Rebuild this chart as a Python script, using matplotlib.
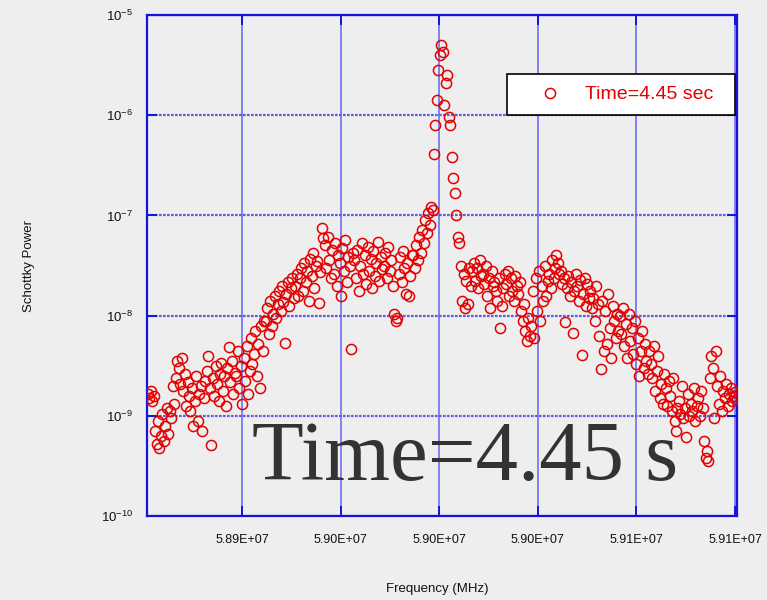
import numpy as np
import matplotlib
matplotlib.use("Agg")
import matplotlib.pyplot as plt
from matplotlib.ticker import FixedLocator, FuncFormatter, NullLocator

plt.rcParams['font.family'] = ['Liberation Sans', 'DejaVu Sans']
plt.rcParams['mathtext.default'] = 'regular'

# Schottky spectrum, one value per frequency bin (log10 of power)
f_start = 58911300.0
f_step = 449.0
log_power = [
    -8.78, -8.82, -8.75, -8.85, -8.80, -9.15, -9.28, -9.05, -9.32, -9.20, -8.98, -9.25, -9.10, -8.92, -9.18, -8.95, -9.02, -8.70, -8.88, -8.62,
    -8.45, -8.52, -8.68, -8.42, -8.75, -8.58, -8.90, -8.66, -8.80, -8.95, -8.72, -9.10, -8.85, -8.60, -9.05, -8.78, -8.70, -9.15, -8.82, -8.65,
    -8.55, -8.40, -8.72, -9.29, -8.62, -8.80, -8.50, -8.68, -8.85, -8.58, -8.47, -8.75, -8.60, -8.90, -8.52, -8.31, -8.66, -8.45, -8.78, -8.57,
    -8.60, -8.35, -8.72, -8.50, -8.88, -8.42, -8.65, -8.30, -8.78, -8.55, -8.22, -8.48, -8.38, -8.15, -8.60, -8.28, -8.72, -8.10, -8.35, -8.05,
    -8.05, -7.92, -8.18, -7.85, -8.10, -7.98, -7.80, -8.02, -7.88, -7.75, -7.95, -7.70, -7.86, -8.27, -7.78, -7.66, -7.90, -7.72, -7.62, -7.82,
    -7.70, -7.58, -7.80, -7.62, -7.52, -7.75, -7.48, -7.66, -7.55, -7.85, -7.44, -7.60, -7.38, -7.72, -7.50, -7.46, -7.87, -7.56, -7.13, -7.23,
    -7.30, -7.52, -7.22, -7.45, -7.62, -7.35, -7.58, -7.28, -7.70, -7.40, -7.48, -7.80, -7.33, -7.55, -7.25, -7.66, -7.42, -7.50, -8.33, -7.38,
    -7.45, -7.62, -7.35, -7.75, -7.50, -7.28, -7.58, -7.40, -7.68, -7.32, -7.55, -7.44, -7.72, -7.36, -7.60, -7.48, -7.27, -7.65, -7.42, -7.53,
    -7.50, -7.38, -7.62, -7.32, -7.55, -7.45, -7.70, -7.98, -8.05, -8.02, -7.58, -7.42, -7.66, -7.36, -7.52, -7.78, -7.48, -7.80, -7.60, -7.40,
    -7.40, -7.52, -7.30, -7.45, -7.22, -7.38, -7.15, -7.28, -7.05, -7.18, -6.98, -7.10, -6.92, -6.95, -6.39, -6.10, -5.85, -5.55, -5.40, -5.30,
    -5.37, -5.90, -5.68, -5.60, -6.02, -6.10, -6.42, -6.63, -6.78, -7.00, -7.22, -7.28, -7.50, -7.85, -7.58, -7.92, -7.65, -7.88, -7.52, -7.70,
    -7.55, -7.48, -7.65, -7.52, -7.72, -7.45, -7.60, -7.58, -7.68, -7.50, -7.80, -7.62, -7.92, -7.55, -7.70, -7.66, -7.75, -7.85, -7.62, -8.12,
    -7.90, -7.72, -7.58, -7.68, -7.55, -7.80, -7.62, -7.75, -7.85, -7.60, -7.70, -7.78, -7.66, -7.95, -8.05, -7.88, -8.15, -8.25, -8.02, -8.20,
    -8.10, -7.75, -8.22, -7.62, -7.95, -7.55, -8.05, -7.70, -7.85, -7.50, -7.80, -7.65, -7.58, -7.72, -7.45, -7.62, -7.52, -7.40, -7.48, -7.58,
    -7.55, -7.68, -7.62, -8.06, -7.72, -7.60, -7.80, -7.66, -8.17, -7.75, -7.58, -7.70, -7.85, -7.64, -8.39, -7.78, -7.62, -7.90, -7.68, -7.82,
    -7.75, -7.92, -7.82, -8.05, -7.70, -7.88, -8.20, -8.53, -7.85, -8.35, -7.95, -8.28, -7.78, -8.12, -8.42, -7.90, -8.05, -8.22, -7.98, -8.15,
    -8.00, -8.18, -7.92, -8.30, -8.08, -8.42, -7.98, -8.25, -8.12, -8.38, -8.05, -8.48, -8.22, -8.60, -8.35, -8.15, -8.52, -8.28, -8.45, -8.58,
    -8.35, -8.48, -8.62, -8.30, -8.75, -8.55, -8.40, -8.82, -8.68, -8.88, -8.58, -8.72, -8.90, -8.65, -8.80, -8.95, -8.62, -9.05, -9.15, -8.92,
    -8.85, -8.98, -8.70, -9.02, -8.92, -9.21, -8.78, -9.00, -8.88, -8.95, -8.72, -9.05, -8.90, -8.82, -9.00, -8.75, -8.92, -9.25, -9.42, -9.35,
    -9.45, -8.62, -8.40, -8.52, -9.02, -8.35, -8.70, -8.88, -8.60, -8.95, -8.75, -8.82, -8.68, -8.90, -8.78, -8.72, -8.85, -8.80, -8.76, -8.83,
]
freq_ticks = [58940000, 58970000, 59000000, 59030000, 59060000, 59090000]
y_ticks = [1e-10, 1e-9, 1e-8, 1e-7, 1e-6, 1e-5]

freq = f_start + f_step * np.arange(len(log_power))
power = 10.0 ** np.array(log_power)

bg = '#eeeeee'
blue = '#1414dc'

fig = plt.figure(figsize=(7.67, 6.0), dpi=100, facecolor=bg)
ax = fig.add_axes([0.1917, 0.14, 0.7692, 0.835], facecolor=bg)

ax.plot(freq, power, linestyle='none', marker='o', markersize=7.3,
        markerfacecolor='none', markeredgecolor='#e40000', markeredgewidth=1.1,
        label='Time=4.45 sec', zorder=4)

ax.set_yscale('log')
ax.set_ylim(1e-10, 1e-5)
ax.set_xlim(58911100, 59090600)
ax.yaxis.set_major_locator(FixedLocator(y_ticks))
ax.yaxis.set_minor_locator(NullLocator())
ax.xaxis.set_major_locator(FixedLocator(freq_ticks))
ax.xaxis.set_major_formatter(FuncFormatter(lambda v, p: f'{v:.2E}'))

# grid: solid light verticals, dotted horizontals
ax.xaxis.grid(True, color='#8282f0', linewidth=1.4, linestyle='-', zorder=1)
ax.yaxis.grid(True, color='#5c5ce8', linewidth=1.6, linestyle=(0, (1.2, 0.6)), zorder=1)
ax.set_axisbelow(True)

for sp in ax.spines.values():
    sp.set_color(blue)
    sp.set_linewidth(1.6)

ax.tick_params(axis='both', which='major', direction='in', colors=blue,
               length=7, width=1.4, top=True, right=True, labelsize=9,
               labelcolor='#111111')
ax.tick_params(axis='x', pad=13)
ax.tick_params(axis='y', pad=10, labelsize=9.5)

ax.set_xlabel('Frequency (MHz)', fontsize=9.5, color='#111111')
ax.xaxis.set_label_coords(0.4915, -0.134)
ax.set_ylabel('Schottky Power', fontsize=9.5, color='#111111')
ax.yaxis.set_label_coords(-0.19, 0.5)

leg = ax.legend(loc='upper left', bbox_to_anchor=(0.610, 0.792, 0.3866, 0.09),
                mode='expand', fontsize=14, labelcolor='#e40000',
                handlelength=3.2, handletextpad=0.2, borderpad=0.6,
                fancybox=False, framealpha=1, facecolor='white',
                edgecolor='black', borderaxespad=0)
leg.get_frame().set_linewidth(1.2)

# large caption over the lower part of the plot
fig.text(252 / 767, 1 - 480 / 600, 'Time=4.45 s', fontsize=61,
         family='Liberation Serif', color='#333333', va='baseline', ha='left',
         zorder=3)

fig.savefig('out.png', dpi=100, facecolor=bg)
